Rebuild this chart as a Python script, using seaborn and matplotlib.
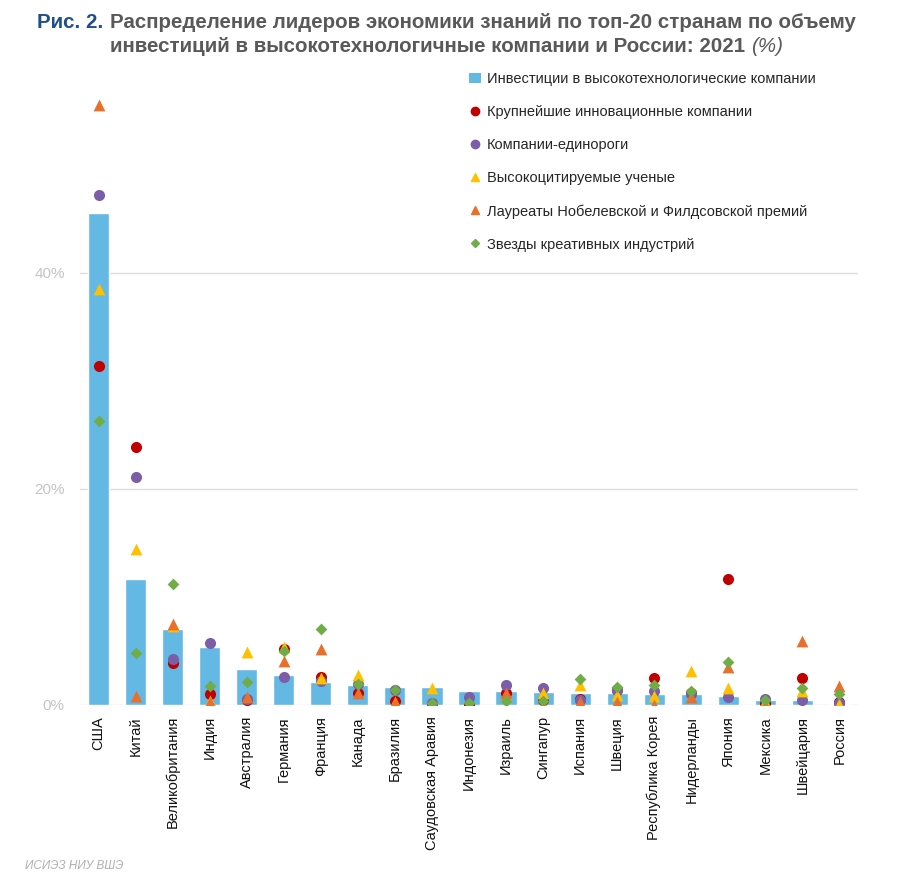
import matplotlib
matplotlib.use("Agg")
import matplotlib.pyplot as plt
from matplotlib.lines import Line2D
from matplotlib.patches import Patch
from matplotlib import font_manager
import seaborn as sns

# Countries: top-20 by investments in high-tech companies + Russia
countries = ["США", "Китай", "Великобритания", "Индия", "Австралия", "Германия",
             "Франция", "Канада", "Бразилия", "Саудовская Аравия", "Индонезия",
             "Израиль", "Сингапур", "Испания", "Швеция", "Республика Корея",
             "Нидерланды", "Япония", "Мексика", "Швейцария", "Россия"]

# Values (%)
investments = [45.5, 11.7, 7.0, 5.4, 3.3, 2.8, 2.1, 1.85, 1.7, 1.65, 1.3,
               1.3, 1.2, 1.1, 1.1, 1.05, 1.0, 0.8, 0.45, 0.45, 0.1]
innovative = [31.4, 23.9, 3.9, 1.0, 0.45, 5.2, 2.6, 1.1, 0.35, 0.05, 0.0,
              1.1, 0.45, 0.55, 1.4, 2.5, 1.1, 11.7, 0.2, 2.5, 0.3]
unicorns = [47.2, 21.1, 4.3, 5.7, 0.6, 2.6, 2.2, 1.9, 1.4, 0.2, 0.75,
            1.85, 1.6, 0.5, 1.4, 1.3, 1.0, 0.75, 0.55, 0.45, 0.2]
cited = [38.5, 14.4, 7.3, 0.4, 4.9, 5.4, 2.5, 2.8, 0.3, 1.55, 0.1,
         0.9, 1.1, 1.85, 0.9, 0.8, 3.1, 1.6, 0.3, 1.3, 0.1]
laureates = [55.5, 0.8, 7.5, 0.3, 0.75, 4.1, 5.2, 1.1, 0.2, 0.0, 0.05,
             1.1, 0.0, 0.3, 0.3, 0.0, 0.7, 3.5, 0.0, 5.9, 1.8]
creative = [26.3, 4.8, 11.2, 1.75, 2.1, 5.0, 7.0, 1.95, 1.4, 0.2, 0.2,
            0.35, 0.4, 2.4, 1.65, 1.85, 1.3, 4.0, 0.5, 1.55, 1.0]

series_names = ["Крупнейшие инновационные компании", "Компании-единороги",
                "Высокоцитируемые ученые", "Лауреаты Нобелевской и Филдсовской премий",
                "Звезды креативных индустрий"]
series_values = [innovative, unicorns, cited, laureates, creative]
series_colors = ["#c00000", "#7b5ea7", "#ffc000", "#e8702a", "#70ad47"]
series_markers = ["o", "o", "^", "^", "D"]
series_sizes = [8, 8, 8.5, 8.5, 6]

bar_name = "Инвестиции в высокотехнологические компании"
bar_color = "#63b8e4"

installed = {f.name for f in font_manager.fontManager.ttflist}
base_font = "Liberation Sans" if "Liberation Sans" in installed else "DejaVu Sans"

sns.set_style("white")
plt.rcParams["font.family"] = [base_font, "DejaVu Sans"]

fig = plt.figure(figsize=(9.08, 8.91), dpi=100)
ax = fig.add_axes([80 / 908, 1 - 705 / 891, 778 / 908, 616 / 891])

sns.barplot(x=countries, y=investments, color=bar_color, width=0.57,
            saturation=1, ax=ax, order=countries)

# points drawn in the same order as the legend, green ends on top
for name, vals, col, mk, sz in zip(series_names, series_values, series_colors,
                                   series_markers, series_sizes):
    sns.stripplot(x=countries, y=vals, order=countries, jitter=False, color=col,
                  marker=mk, size=sz, linewidth=0, ax=ax)

ax.set_xlim(-0.5, len(countries) - 0.5)
ax.set_ylim(0, 57)
ax.set_yticks([0, 20, 40])
ax.set_yticklabels(["0%", "20%", "40%"], color="#c4c4c4", fontsize=11)
ax.yaxis.grid(True, color="#dedede", linewidth=1)
ax.set_axisbelow(True)
ax.tick_params(axis="y", length=0, pad=11)
ax.tick_params(axis="x", length=0, pad=8)
ax.set_xticks(range(len(countries)))
ax.set_xticklabels(countries, rotation=90, fontsize=10.5, color="#111111")
for s in ax.spines.values():
    s.set_visible(False)
ax.set_xlabel("")
ax.set_ylabel("")

handles = [Patch(facecolor=bar_color, edgecolor="none", label=bar_name)]
for name, col, mk in zip(series_names, series_colors, series_markers):
    handles.append(Line2D([], [], linestyle="none", marker=mk, color=col,
                          markersize=6 if mk != "D" else 4.5, label=name))
leg = fig.legend(handles=handles, loc="upper left",
                 bbox_to_anchor=(462 / 908, 1 - 65 / 891), frameon=False,
                 fontsize=10.5, labelspacing=1.3, handlelength=0.8,
                 handletextpad=0.4, borderpad=0)
for t in leg.get_texts():
    t.set_color("#262626")

# Title
title_kw = dict(fontsize=14.8, fontweight="bold", va="center")
fig.text(37 / 908, 1 - 22 / 891, "Рис. 2.", color="#1f4e8c", **title_kw)
fig.text(110 / 908, 1 - 22 / 891,
         "Распределение лидеров экономики знаний по топ-20 странам по объему",
         color="#595959", **title_kw)
line2 = fig.text(110 / 908, 1 - 47 / 891,
                 "инвестиций в высокотехнологичные компании и России: 2021",
                 color="#595959", **title_kw)
fig.canvas.draw()
bb = line2.get_window_extent()
fig.text((bb.x1 + 6) / 908, 1 - 47 / 891, "(%)", color="#595959",
         fontsize=14.8, fontstyle="italic", va="center")

fig.text(25 / 908, 1 - 866 / 891, "ИСИЭЗ НИУ ВШЭ", color="#b0b0b0",
         fontsize=8.5, fontstyle="italic", va="center")

fig.savefig("out.png", dpi=100)
